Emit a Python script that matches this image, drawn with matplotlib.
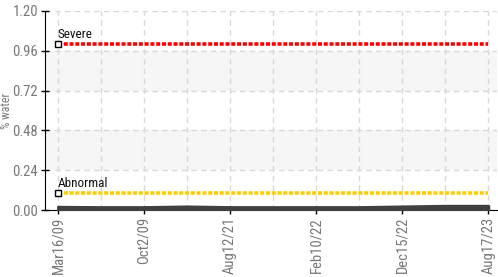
import matplotlib
matplotlib.use("Agg")
import matplotlib.pyplot as plt
import numpy as np
from matplotlib import font_manager

dates = ["Mar16/09", "Oct2/09", "Aug12/21", "Feb10/22", "Dec15/22", "Aug17/23"]
# water level at each half step between labelled dates
water = [0.02, 0.018, 0.018, 0.022, 0.018, 0.018, 0.018, 0.018, 0.022, 0.026, 0.026]
severe_level = 1.0
abnormal_level = 0.1
yticks = [0.00, 0.24, 0.48, 0.72, 0.96, 1.20]

fams = set(f.name for f in font_manager.fontManager.ttflist)
tickfont = "DejaVu Sans"
for cand in ["Roboto Condensed", "Archivo Narrow", "Barlow Semi Condensed", "Asap Condensed"]:
    if cand in fams:
        tickfont = cand
        break

fig = plt.figure(figsize=(4.98, 2.77), dpi=100)
ax = fig.add_axes([45/498, 1-210/277, 452/498, 199/277])

n = len(water)
xs = np.arange(n)
ax.set_xlim(-0.3, n - 1 + 0.2)
ax.set_ylim(0, 1.2)

# bands
for lo, hi in [(0.24, 0.48), (0.72, 0.96)]:
    ax.axhspan(lo, hi, color="#f6f6f6", zorder=0, lw=0)

# grid
for yv in yticks[1:]:
    ax.axhline(yv, color="#d8d8d8", lw=1, ls=(0, (4, 3)), zorder=1)
for xv in xs:
    ax.axvline(xv, color="#d8d8d8", lw=1, ls=(0, (4, 3)), zorder=1)

# data area
ax.fill_between(xs, 0, water, color="#404040", lw=2, edgecolor="#404040", zorder=3)

# thresholds
ax.plot([0, n - 1], [severe_level] * 2, color="#ff0000", lw=2.6, ls=(0, (1.1, 0.5)), zorder=4)
ax.plot([0, n - 1], [abnormal_level] * 2, color="#ffcc00", lw=2.6, ls=(0, (1.1, 0.5)), zorder=4)
ax.plot([0], [severe_level], marker="s", ms=5, mfc="white", mec="black", mew=1, zorder=5)
ax.plot([0], [abnormal_level], marker="s", ms=5, mfc="white", mec="black", mew=1, zorder=5)
ax.text(0, severe_level + 0.02, "Severe", fontsize=9.5, family=tickfont, color="#111111", va="bottom", ha="left", zorder=6)
ax.text(0, abnormal_level + 0.02, "Abnormal", fontsize=9.5, family=tickfont, color="#111111", va="bottom", ha="left", zorder=6)

ax.set_yticks(yticks)
ax.set_yticklabels([f"{v:.2f}" for v in yticks], family=tickfont, fontsize=10.5, color="#777777")
ax.set_xticks(xs[::2])
ax.set_xticklabels(dates, rotation=90, family=tickfont, fontsize=10.5, color="#777777")
ax.tick_params(axis="both", direction="inout", length=6, width=1, color="black", pad=2)

for s in ["top", "right"]:
    ax.spines[s].set_visible(False)
ax.spines["left"].set_color("black")
ax.spines["bottom"].set_color("black")
ax.set_ylabel("% water", family=tickfont, fontsize=8.5, color="#777777")
ax.yaxis.set_label_coords(-32/452, 0.5)

fig.savefig("out.png", dpi=100)
